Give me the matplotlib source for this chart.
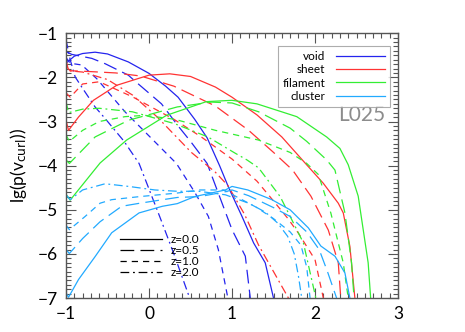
import numpy as np
import matplotlib
matplotlib.use("Agg")
import matplotlib.pyplot as plt
from matplotlib.lines import Line2D
from matplotlib.ticker import MultipleLocator

plt.rcParams.update({
    "font.family": ["Lato", "DejaVu Sans"],
    "mathtext.default": "regular",
    "axes.unicode_minus": True,
})

# environments and redshifts
envs = ["void", "sheet", "filament", "cluster"]
env_colors = ["#2424ee", "#ff3333", "#33ee33", "#22aaff"]
z_labels = ["z=0.0", "z=0.5", "z=1.0", "z=2.0"]

# ---- void ----
void_z00_x = [-1.0, -0.9, -0.8, -0.65, -0.5, -0.25, 0.0, 0.2, 0.35, 0.55, 0.7, 0.85, 0.96, 1.12, 1.26, 1.4, 1.5]
void_z00_y = [-1.68, -1.52, -1.46, -1.43, -1.47, -1.65, -1.91, -2.2, -2.45, -2.95, -3.37, -4.0, -4.5, -5.15, -5.75, -6.2, -7.0]
void_z05_x = [-1.0, -0.93, -0.69, -0.53, -0.25, -0.16, 0.15, 0.35, 0.5, 0.7, 1.0, 1.16, 1.22]
void_z05_y = [-1.42, -1.48, -1.57, -1.69, -1.95, -2.1, -2.6, -3.1, -3.45, -3.95, -5.45, -6.05, -7.0]
void_z10_x = [-1.0, -0.95, -0.81, -0.63, -0.29, 0.15, 0.33, 0.55, 0.715, 0.835, 0.95]
void_z10_y = [-1.55, -1.68, -1.72, -2.03, -2.78, -3.61, -3.95, -4.6, -5.15, -5.9, -7.0]
void_z20_x = [-1.0, -0.95, -0.89, -0.8, -0.65, -0.53, -0.3, -0.12, 0.13, 0.3, 0.49]
void_z20_y = [-1.15, -1.6, -1.99, -2.25, -2.67, -2.93, -3.45, -3.95, -5.16, -6.0, -7.0]

# ---- sheet ----
sheet_z00_x = [-1.0, -0.97, -0.85, -0.67, -0.39, 0.0, 0.25, 0.5, 0.8, 1.0, 1.3, 1.6, 1.88, 2.1, 2.28, 2.34, 2.42, 2.48]
sheet_z00_y = [-2.97, -3.2, -2.9, -2.52, -2.18, -1.95, -1.92, -1.98, -2.22, -2.45, -2.85, -3.35, -3.94, -4.4, -4.85, -5.07, -5.83, -7.0]
sheet_z05_x = [-1.0, -0.95, -0.7, -0.4, -0.1, 0.3, 0.8, 1.2, 1.5, 1.73, 1.95, 2.16, 2.28, 2.31]
sheet_z05_y = [-1.75, -1.85, -1.87, -1.9, -1.97, -2.2, -2.65, -3.2, -3.7, -4.1, -4.69, -5.46, -6.2, -7.0]
sheet_z10_x = [-1.0, -0.95, -0.8, -0.6, -0.2, 0.3, 0.63, 1.0, 1.3, 1.5, 1.67, 1.8, 2.0, 2.1]
sheet_z10_y = [-2.35, -2.45, -2.15, -2.1, -2.44, -2.95, -3.35, -3.85, -4.35, -4.8, -5.19, -5.53, -6.13, -7.0]
sheet_z20_x = [-1.0, -0.97, -0.8, -0.5, -0.2, 0.1, 0.51, 0.8, 0.95, 1.15, 1.32, 1.5, 1.68]
sheet_z20_y = [-1.6, -1.85, -1.88, -2.05, -2.4, -2.9, -3.7, -4.15, -4.45, -5.1, -5.8, -6.4, -7.0]

# ---- filament ----
fil_z00_x = [-1.0, -0.95, -0.8, -0.59, -0.27, 0.21, 0.69, 1.0, 1.3, 1.78, 2.14, 2.3, 2.4, 2.52, 2.64, 2.67]
fil_z00_y = [-4.65, -4.78, -4.43, -3.94, -3.42, -2.86, -2.55, -2.52, -2.6, -2.89, -3.35, -3.61, -3.98, -4.69, -6.2, -7.0]
fil_z05_x = [-1.0, -0.96, -0.65, -0.245, 0.34, 0.75, 1.0, 1.32, 1.7, 1.9, 2.14, 2.24, 2.36, 2.44, 2.47]
fil_z05_y = [-3.87, -3.95, -3.35, -2.97, -2.67, -2.56, -2.58, -2.78, -3.15, -3.45, -3.87, -4.1, -5.07, -6.2, -7.0]
fil_z10_x = [-1.0, -0.96, -0.8, -0.6, -0.29, -0.05, 0.31, 0.8, 1.32, 1.7, 1.9, 2.04, 2.19, 2.34, 2.4]
fil_z10_y = [-3.3, -3.45, -3.2, -3.0, -2.89, -2.86, -2.95, -3.2, -3.42, -3.7, -3.95, -4.2, -5.07, -6.2, -7.0]
fil_z20_x = [-1.0, -0.97, -0.8, -0.6, -0.2, 0.31, 0.71, 1.04, 1.18, 1.32, 1.58, 1.86, 2.01]
fil_z20_y = [-2.55, -2.8, -2.72, -2.7, -2.78, -3.05, -3.35, -3.72, -3.87, -4.05, -4.7, -5.75, -7.0]

# ---- cluster ----
clu_z00_x = [-1.0, -0.97, -0.85, -0.65, -0.45, -0.12, 0.16, 0.34, 0.55, 0.92, 1.0, 1.19, 1.48, 1.7, 1.92, 2.07, 2.24, 2.36, 2.42]
clu_z00_y = [-6.88, -6.98, -6.58, -6.06, -5.52, -5.07, -4.92, -4.86, -4.7, -4.55, -4.47, -4.55, -4.77, -5.0, -5.41, -5.82, -6.05, -6.43, -7.0]
clu_z05_x = [-1.0, -0.96, -0.8, -0.59, -0.33, -0.11, 0.34, 0.61, 0.9, 1.0, 1.2, 1.5, 1.7, 1.9, 2.05, 2.15, 2.26]
clu_z05_y = [-5.9, -5.99, -5.65, -5.27, -4.92, -4.85, -4.72, -4.7, -4.6, -4.55, -4.68, -4.95, -5.15, -5.5, -5.9, -6.4, -7.0]
clu_z10_x = [-1.0, -0.96, -0.77, -0.59, -0.45, -0.11, 0.34, 0.61, 0.9, 1.1, 1.3, 1.5, 1.7, 1.83, 1.9, 1.94]
clu_z10_y = [-5.35, -5.45, -5.15, -4.85, -4.77, -4.7, -4.62, -4.55, -4.55, -4.75, -4.95, -5.2, -5.5, -5.8, -6.3, -7.0]
clu_z20_x = [-1.0, -0.95, -0.8, -0.53, -0.245, 0.07, 0.34, 0.6, 0.92, 1.2, 1.4, 1.55, 1.67, 1.75, 1.8, 1.84]
clu_z20_y = [-4.66, -4.77, -4.55, -4.41, -4.47, -4.55, -4.58, -4.58, -4.66, -4.85, -5.05, -5.3, -5.6, -6.0, -6.5, -7.0]

curves = {
    "void": [(void_z00_x, void_z00_y), (void_z05_x, void_z05_y), (void_z10_x, void_z10_y), (void_z20_x, void_z20_y)],
    "sheet": [(sheet_z00_x, sheet_z00_y), (sheet_z05_x, sheet_z05_y), (sheet_z10_x, sheet_z10_y), (sheet_z20_x, sheet_z20_y)],
    "filament": [(fil_z00_x, fil_z00_y), (fil_z05_x, fil_z05_y), (fil_z10_x, fil_z10_y), (fil_z20_x, fil_z20_y)],
    "cluster": [(clu_z00_x, clu_z00_y), (clu_z05_x, clu_z05_y), (clu_z10_x, clu_z10_y), (clu_z20_x, clu_z20_y)],
}

# IDL-like line styles: solid, long dash, dash, dash-dot
z_styles = ["-", (0, (11, 5)), (0, (5, 4)), (0, (7, 3, 1.5, 3))]
lw = 0.9

fig = plt.figure(figsize=(4.65, 3.32), dpi=100)
ax = fig.add_axes([0.142, 0.102, 0.714, 0.798])

for env, col in zip(envs, env_colors):
    for (xs, ys), ls in zip(curves[env], z_styles):
        ax.plot(xs, ys, color=col, lw=lw, linestyle=ls)

ax.set_xlim(-1, 3)
ax.set_ylim(-7, -1)
ax.xaxis.set_major_locator(MultipleLocator(1))
ax.xaxis.set_minor_locator(MultipleLocator(0.1))
ax.yaxis.set_major_locator(MultipleLocator(1))
ax.yaxis.set_minor_locator(MultipleLocator(0.1))
ax.tick_params(which="both", direction="in", top=True, right=True, color="#555555")
ax.tick_params(which="major", length=7, width=0.8, labelsize=12.5, pad=6)
ax.tick_params(which="minor", length=3.5, width=0.8)
for sp in ax.spines.values():
    sp.set_color("#555555")
    sp.set_linewidth(1.0)

ax.set_ylabel(r"lg(p(v$_{\rm curl}$))", fontsize=12.5, labelpad=6)

# colour legend (labels left of the lines)
env_handles = [Line2D([], [], color=c, lw=lw) for c in env_colors]
leg1 = ax.legend(env_handles, envs, loc="upper right", bbox_to_anchor=(0.976, 0.951),
                 markerfirst=False, fontsize=8.5, handlelength=4.2, labelspacing=0.2,
                 frameon=True, fancybox=False, edgecolor="#999999", borderpad=0.4,
                 handletextpad=0.9, borderaxespad=0)
leg1.get_frame().set_linewidth(0.8)
ax.add_artist(leg1)

z_handles = [Line2D([], [], color="black", lw=lw, linestyle=ls) for ls in z_styles]
leg2 = ax.legend(z_handles, z_labels, loc="lower left", bbox_to_anchor=(0.13, 0.035),
                 fontsize=8.5, handlelength=3.6, labelspacing=0.0, frameon=False,
                 handletextpad=0.7)

ax.text(0.96, 0.69, "L025", transform=ax.transAxes, ha="right", va="center",
        fontsize=15, color="#8c8c8c")

fig.savefig("out.png", dpi=100)
